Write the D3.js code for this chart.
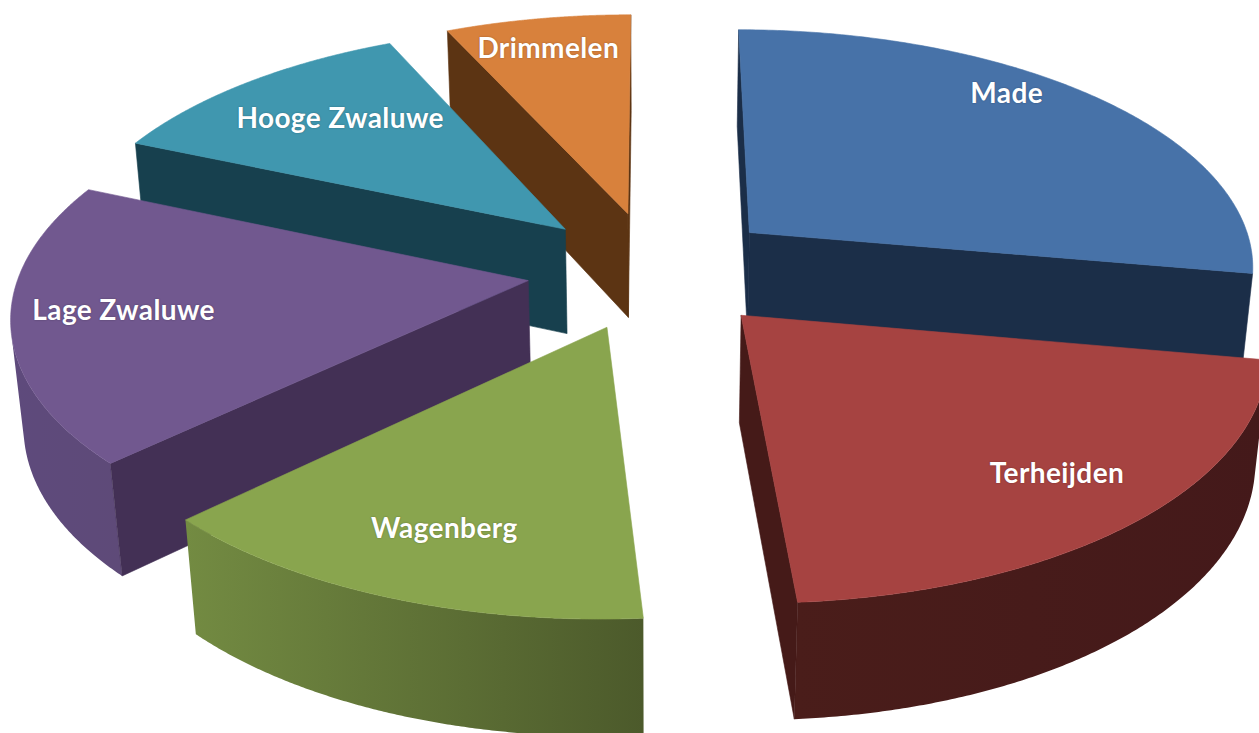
<!DOCTYPE html>
<html><head><meta charset="utf-8">
<script src="https://cdn.jsdelivr.net/npm/d3@7"></script>
<style>html,body{margin:0;padding:0;background:#fff;overflow:hidden}svg{display:block}
text{font-family:Lato,"Open Sans",sans-serif;font-weight:700;fill:#fff;text-anchor:middle;dominant-baseline:central;letter-spacing:.4px;text-shadow:0 0 2px rgba(0,0,0,.3);}</style>
</head><body><div id="c"></div>
<script>
// ---- data ----
const categories = ["Made","Terheijden","Wagenberg","Lage Zwaluwe","Hooge Zwaluwe","Drimmelen"];
const values = [27.8,21.05,14.0,18.65,11.7,6.8];
// ---- styling ----
const topColors = ["#4772a8","#a64341","#89a54e","#71588f","#4097af","#d8813c"];
const wallColors = ["#1b2e48","#451a18","#4c5a2b","#433055","#17404e","#5c3413"];
const rimColors = [["#1b2e48","#1b2e48"],["#4a1d1a","#44191a"],["#738b42","#4c5a2b"],["#5e4a7c","#5e4a78"],["#17404e","#17404e"],["#5c3413","#5c3413"]];
const labelPlace = [[0.883,40.8],[0.797,136.6],[0.764,200.9],[0.785,261.5],[0.722,316.7],[0.842,347.4]];
const drawOrder = [5,4,0,3,1,2];
const W=1259,H=733;
// ---- perspective camera ----
const cam={cx:654,cy:270,A:508,B:238,k:0.129,m:0.02,h:108,explode:0.25};
const project=(X,Y,z)=>{const w=1-cam.k*Y+cam.m*(1-z);
  return [cam.cx+cam.A*X/w, cam.cy+(cam.B*Y+cam.h*(1-z))/w];};
const polar=(r,a)=>[r*Math.sin(a),-r*Math.cos(a)];
const pie=d3.pie().sort(null).startAngle(0).endAngle(2*Math.PI);
const arcs=pie(values);
const line=d3.line().curve(d3.curveLinear);
const svg=d3.select("#c").append("svg").attr("width",W).attr("height",H);
const defs=svg.append("defs");
const area=q=>d3.polygonArea(q);
function sliceGeom(d){
  const mid=(d.startAngle+d.endAngle)/2;
  const [ox,oy]=polar(cam.explode,mid);
  const pt=(r,a,z)=>{const [x,y]=polar(r,a);return project(ox+x,oy+y,z);};
  return {ox,oy,pt};
}
drawOrder.forEach(i=>{
  const d=arcs[i], g=svg.append("g").attr("class","slice");
  const {pt}=sliceGeom(d);
  const a0=d.startAngle,a1=d.endAngle;
  const angles=d3.range(0,181).map(t=>a0+(a1-a0)*t/180);
  // outer curved wall: one path over the camera-facing part of the rim
  const facing=d3.pairs(angles).filter(([p,q])=>area([pt(1,p,1),pt(1,q,1),pt(1,q,0),pt(1,p,0)])>0);
  if(facing.length){
    const as=[facing[0][0],...facing.map(f=>f[1])];
    const poly=[...as.map(a=>pt(1,a,1)),...as.slice().reverse().map(a=>pt(1,a,0))];
    const [x0,x1]=d3.extent(poly,p=>p[0]);
    const gr=defs.append("linearGradient").attr("id","rim"+i).attr("gradientUnits","userSpaceOnUse")
      .attr("x1",x0).attr("x2",x1).attr("y1",0).attr("y2",0);
    gr.append("stop").attr("offset",0).attr("stop-color",rimColors[i][0]);
    gr.append("stop").attr("offset",1).attr("stop-color",rimColors[i][1]);
    g.append("path").attr("d",line(poly)+"Z").attr("fill",`url(#rim${i})`);
  }
  // radial walls
  const apexT=pt(0,0,1),apexB=pt(0,0,0);
  const startW=[apexT,pt(1,a0,1),pt(1,a0,0),apexB];
  const endW=[pt(1,a1,1),apexT,apexB,pt(1,a1,0)];
  [startW,endW].forEach(q=>{ if(area(q)>0)
    g.append("path").attr("d",line(q)+"Z").attr("fill",wallColors[i]).attr("stroke",wallColors[i]).attr("stroke-width",0.6);
  });
  // top face
  const top=[apexT,...angles.map(a=>pt(1,a,1))];
  g.append("path").attr("d",line(top)+"Z").attr("fill",topColors[i]).attr("stroke",topColors[i]).attr("stroke-width",0.6);
});
// labels
categories.forEach((c,i)=>{
  const {pt}=sliceGeom(arcs[i]);
  const [r,deg]=labelPlace[i];
  const p=pt(r,deg*Math.PI/180,1);
  svg.append("text").attr("x",p[0]).attr("y",p[1]).attr("font-size",28).text(c);
});
</script></body></html>
